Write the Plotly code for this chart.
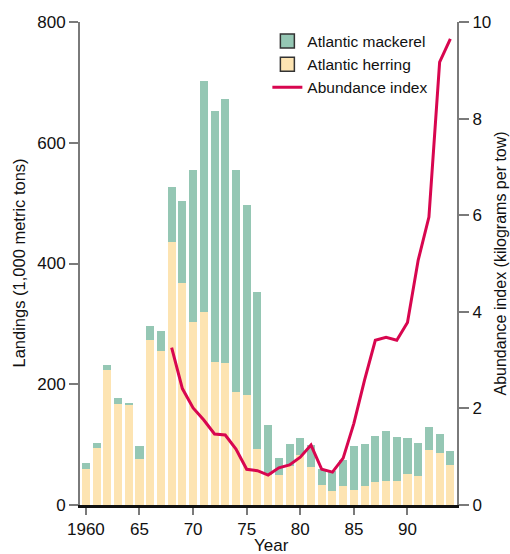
import plotly.graph_objects as go

years = list(range(1960, 1995))
herring = [60, 95, 224, 167, 165, 76, 273, 255, 435, 368, 303, 319, 237, 235, 187, 182, 93, 50,
           50, 65, 83, 63, 33, 23, 31, 25, 31, 38, 40, 40, 51, 48, 91, 86, 66]
mackerel = [10, 7, 8, 11, 4, 22, 24, 33, 91, 136, 252, 384, 416, 438, 368, 315, 260, 83,
            28, 36, 28, 36, 27, 34, 44, 73, 70, 76, 83, 73, 60, 55, 38, 32, 23]
abund_years = list(range(1968, 1995))
abundance = [3.26, 2.41, 2.01, 1.76, 1.47, 1.45, 1.16, 0.74, 0.71, 0.62, 0.77, 0.83, 0.99, 1.24,
             0.74, 0.68, 0.97, 1.69, 2.59, 3.41, 3.47, 3.41, 3.78, 5.07, 5.96, 9.17, 9.65]
x_tickvals = [1960, 1965, 1970, 1975, 1980, 1985, 1990]
x_ticktext = ["1960", "65", "70", "75", "80", "85", "90"]

GREEN = "#95c7b4"
CREAM = "#fde4b2"
RED = "#d8064f"
GREY = "#7a7a7a"
FONT = "Liberation Sans, Arial, sans-serif"

fig = go.Figure()
fig.add_trace(go.Bar(x=years, y=herring, marker=dict(color=CREAM, line=dict(width=0)),
                     showlegend=False, name="Atlantic herring"))
fig.add_trace(go.Bar(x=years, y=mackerel, marker=dict(color=GREEN, line=dict(width=0)),
                     showlegend=False, name="Atlantic mackerel"))
fig.add_trace(go.Scatter(x=abund_years, y=abundance, yaxis="y2", mode="lines",
                         line=dict(color=RED, width=3), showlegend=False,
                         name="Abundance index"))

# legend entries
fig.add_trace(go.Scatter(x=[None], y=[None], mode="markers", name="Atlantic mackerel",
                         marker=dict(symbol="square", size=14, color=GREEN,
                                     line=dict(color="#333333", width=1.5))))
fig.add_trace(go.Scatter(x=[None], y=[None], mode="markers", name="Atlantic herring",
                         marker=dict(symbol="square", size=14, color=CREAM,
                                     line=dict(color="#333333", width=1.5))))
fig.add_trace(go.Scatter(x=[None], y=[None], mode="lines", name="Abundance index",
                         line=dict(color=RED, width=3)))

fig.update_layout(
    width=510, height=554,
    margin=dict(l=80, r=53, t=22, b=49),
    paper_bgcolor="white", plot_bgcolor="white",
    barmode="stack", bargap=0.25,
    font=dict(family=FONT, size=16, color="#111111"),
    showlegend=True,
    legend=dict(x=0.497, y=0.995, xanchor="left", yanchor="top",
                bgcolor="rgba(0,0,0,0)", font=dict(size=15.5), traceorder="normal",
                itemwidth=30),
    xaxis=dict(range=[1959.45, 1994.62], tickvals=x_tickvals, ticktext=x_ticktext,
               ticks="outside", ticklen=7, tickwidth=2, tickcolor=GREY,
               showline=True, linecolor="#111111", linewidth=3, layer="below traces",
               showgrid=False, zeroline=False, tickfont=dict(size=17)),
    yaxis=dict(range=[0, 800], tickvals=[0, 200, 400, 600, 800],
               ticks="outside", ticklen=9, tickwidth=2, tickcolor=GREY,
               showline=True, linecolor=GREY, linewidth=2,
               showgrid=False, zeroline=False, tickfont=dict(size=17)),
    yaxis2=dict(range=[0, 10], tickvals=[0, 2, 4, 6, 8, 10], overlaying="y", side="right",
                ticks="outside", ticklen=10, tickwidth=2, tickcolor=GREY,
                showline=True, linecolor=GREY, linewidth=2,
                showgrid=False, zeroline=False, tickfont=dict(size=17)),
    annotations=[
        dict(text="Landings (1,000 metric tons)", xref="paper", yref="paper",
             x=0, y=0.5, xshift=-62, textangle=-90, showarrow=False,
             xanchor="center", yanchor="middle", font=dict(size=16.5)),
        dict(text="Abundance index (kilograms per tow)", xref="paper", yref="paper",
             x=1, y=0.5, xshift=43, textangle=-90, showarrow=False,
             xanchor="center", yanchor="middle", font=dict(size=16)),
        dict(text="Year", xref="paper", yref="paper", x=0.509, y=0, yshift=-40,
             showarrow=False, xanchor="center", yanchor="middle", font=dict(size=17)),
    ],
)

fig.write_html("out.html", config={"displayModeBar": False},
               post_script="document.body.style.margin='0';document.body.style.padding='0';")
